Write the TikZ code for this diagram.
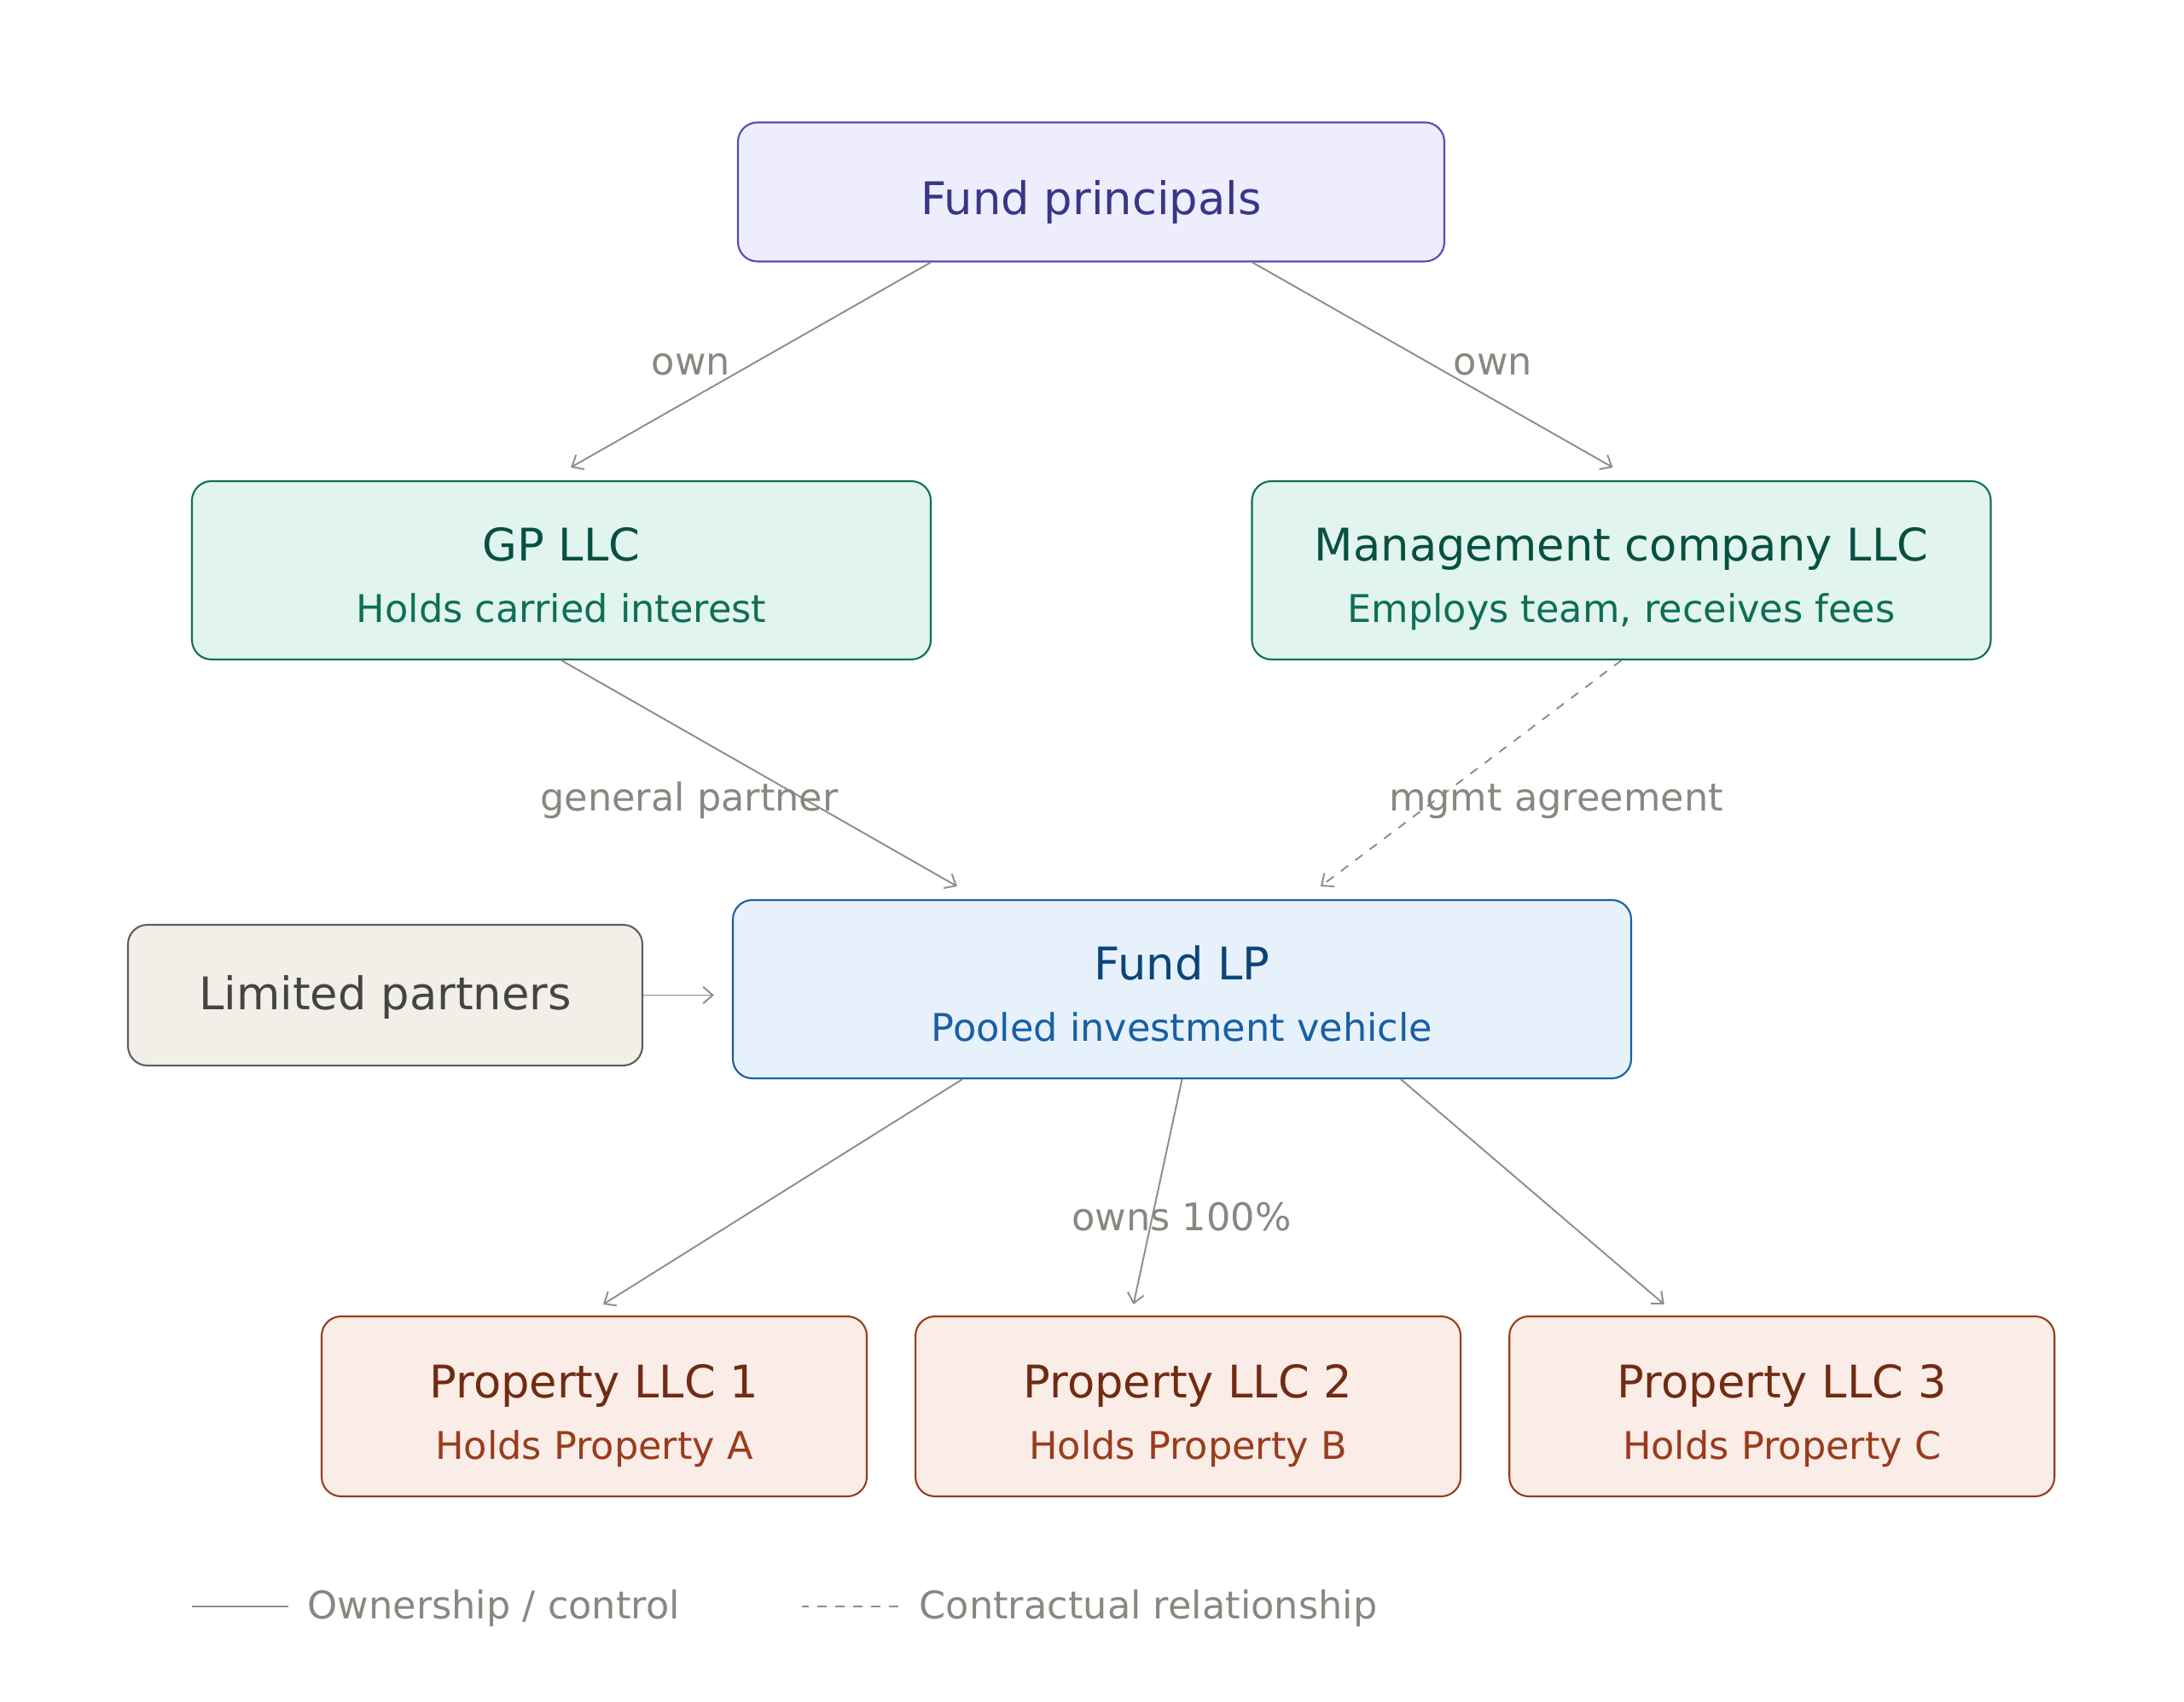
\documentclass[tikz,border=0pt]{standalone}
\usepackage{fontspec}
\setmainfont{DejaVu Sans}
\usepackage{xcolor}
\usetikzlibrary{arrows.meta, calc, positioning}
% Palette
\definecolor{myviolet}{HTML}{534AB7}
\definecolor{myvioletfill}{HTML}{EEEDFE}
\definecolor{myviolettext}{HTML}{3C3489}
\definecolor{mygreen}{HTML}{0F6E56}
\definecolor{mygreenfill}{HTML}{E1F5EE}
\definecolor{mygreentext}{HTML}{085041}
\definecolor{mysand}{HTML}{5F5E5A}
\definecolor{mysandfill}{HTML}{F1EFE8}
\definecolor{mysandtext}{HTML}{444441}
\definecolor{myblue}{HTML}{185FA5}
\definecolor{mybluefill}{HTML}{E6F1FB}
\definecolor{mybluetext}{HTML}{0C447C}
\definecolor{myrust}{HTML}{993C1D}
\definecolor{myrustfill}{HTML}{FAECE7}
\definecolor{myrusttext}{HTML}{712B13}
\definecolor{mygray}{HTML}{8E8D87}
\definecolor{mygraytext}{HTML}{888780}
% Title line (with strut) and subtitle line (with strut)
\newcommand{\boxtitle}[2][17.2pt]{{\fontsize{15}{20.4}\selectfont\rule{0pt}{#1}#2}}
\newcommand{\boxsub}[1]{#1\rule[-3pt]{0pt}{3pt}}
\tikzset{
  >={Straight Barb[length=3.2pt,width=5.5pt]},
  % Boxes
  box/.style={draw,rounded corners=6.5pt,line width=0.6pt,align=center,inner sep=0pt,
    font=\fontsize{12.7}{20.4}\selectfont},
  box top/.style={box,draw=myviolet,fill=myvioletfill,text=myviolettext,
    minimum width=8.28cm,minimum height=1.63cm},
  box entity/.style={box,draw=mygreen,fill=mygreenfill,text=mygreen,
    minimum width=8.66cm,minimum height=2.09cm},
  box investors/.style={box,draw=mysand,fill=mysandfill,text=mysandtext,
    minimum width=6.03cm,minimum height=1.65cm},
  box fund/.style={box,draw=myblue,fill=mybluefill,text=myblue,
    minimum width=10.53cm,minimum height=2.09cm},
  box asset/.style={box,draw=myrust,fill=myrustfill,text=myrust,
    minimum width=6.39cm,minimum height=2.11cm},
  % Connections
  connect arrow/.style={->,line width=0.55pt,mygray},
  connect dashed/.style={connect arrow,dash pattern=on 3pt off 3pt},
  edge label/.style={text=mygraytext,inner sep=0pt,font=\fontsize{12.7}{15}\selectfont}
}

\begin{document}
\begin{tikzpicture}
\useasboundingbox (0,0) rectangle (25.6,19.95);

% Nodes
\node[box top] (principals) at (12.79,17.70) {\boxtitle[18.5pt]{Fund principals}};
\node[box entity] (gp) at (6.58,13.265)
  {\boxtitle{\color{mygreentext}GP LLC}\\\boxsub{Holds carried interest}};
\node[box entity] (mgmt) at (19.005,13.265)
  {\boxtitle{\color{mygreentext}Management company LLC}\\\boxsub{Employs team, receives fees}};
\node[box investors] (lps) at (4.515,8.285) {\boxtitle[12.6pt]{Limited partners}};
\node[box fund] (fund) at (13.855,8.355)
  {\boxtitle{\color{mybluetext}Fund LP}\\\boxsub{Pooled investment vehicle}};
\node[box asset] (prop1) at (6.965,3.465)
  {\boxtitle[17.8pt]{\color{myrusttext}Property LLC 1}\\\boxsub{Holds Property A}};
\node[box asset, right=0.55cm of prop1] (prop2)
  {\boxtitle[17.8pt]{\color{myrusttext}Property LLC 2}\\\boxsub{Holds Property B}};
\node[box asset, right=0.55cm of prop2] (prop3)
  {\boxtitle[17.8pt]{\color{myrusttext}Property LLC 3}\\\boxsub{Holds Property C}};

% Connections
\draw[connect arrow] ($(principals.south)+(-1.88,0)$) -- ($(gp.north)+(0.11,0.15)$);
\draw[connect arrow] ($(principals.south)+(1.89,0)$) -- ($(mgmt.north)+(-0.10,0.15)$);
\draw[connect arrow] (gp.south) -- ($(fund.north west)+(2.64,0.15)$);
\draw[connect dashed] (mgmt.south) -- ($(fund.north west)+(6.90,0.15)$);
\draw[connect arrow, shorten >=0.21cm] (lps.east) -- (lps.east -| fund.west);
\draw[connect arrow] ($(fund.south)+(-2.575,0)$) -- ($(prop1.north)+(0.105,0.13)$);
\draw[connect arrow] (fund.south) -- ($(prop2.north)+(-0.64,0.13)$);
\draw[connect arrow] ($(fund.south)+(2.565,0)$) -- ($(prop3.north)+(-1.38,0.13)$);

% Edge labels
\node[edge label] (ownl) at (8.10,15.68) {own};
\node[edge label] (ownr) at (17.50,15.68) {own};
\node[edge label] (gplabel) at (8.08,10.57) {general partner};
\node[edge label] (mgmtlabel) at (18.24,10.56) {mgmt agreement};
\node[edge label] (ownslabel) at (13.85,5.69) {owns 100\%};

% Legend
\node[edge label, anchor=west] (legsolid) at (3.60,1.10) {Ownership / control};
\node[edge label, anchor=west] (legdash) at (10.77,1.10) {Contractual relationship};
\draw[line width=0.55pt, mygray] ($(legsolid.west)+(-0.22,0.02)$) -- ++(-1.13,0);
\draw[line width=0.55pt, mygray, dash pattern=on 3pt off 3pt] ($(legdash.west)+(-0.24,0.02)$) -- ++(-1.13,0);

\end{tikzpicture}
\end{document}
